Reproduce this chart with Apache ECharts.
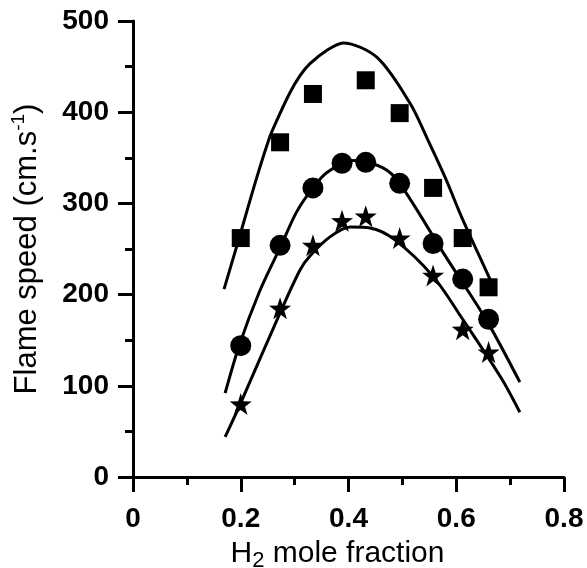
<!DOCTYPE html>
<html>
<head>
<meta charset="utf-8">
<script src="https://cdn.jsdelivr.net/npm/echarts@6/dist/echarts.min.js"></script>
<style>
  html, body { margin: 0; padding: 0; background: #fff; }
  #chart { width: 587px; height: 568px; }
</style>
</head>
<body>
<div id="chart"></div>
<script>
// Measured flame speeds (cm/s) against H2 mole fraction, three mixtures
const fracAll = [0.2, 0.273, 0.334, 0.388, 0.432, 0.495, 0.557, 0.612, 0.66];
const fracSquare = [0.2, 0.273, 0.334, 0.432, 0.495, 0.557, 0.612, 0.66];
const speedSquare = [262, 367, 420, 435, 399, 317, 262, 208];
const speedCircle = [144, 254, 317, 344, 345, 322, 256, 217, 173];
const speedStar = [80, 185, 254, 281, 286, 262, 221, 162, 137];

// Model curves: [mole fraction, flame speed]
const fitTop = [[0.169, 206], [0.197, 262], [0.228, 325], [0.254, 373], [0.267, 391],
  [0.291, 421], [0.31, 440], [0.328, 453], [0.36, 468], [0.39, 476], [0.453, 460],
  [0.514, 410], [0.547, 370], [0.579, 329], [0.61, 285], [0.64, 246], [0.672, 205]];
const fitMid = [[0.171, 92], [0.197, 144], [0.236, 205], [0.275, 254], [0.304, 291],
  [0.334, 317], [0.36, 334], [0.41, 347], [0.464, 339], [0.495, 322], [0.579, 243],
  [0.656, 172], [0.718, 104]];
const fitBot = [[0.171, 44], [0.199, 80], [0.273, 180], [0.31, 227], [0.328, 242],
  [0.365, 263], [0.403, 274], [0.44, 273], [0.486, 260], [0.557, 220], [0.613, 172],
  [0.684, 108], [0.718, 71]];

const xTicks = [0, 0.2, 0.4, 0.6, 0.8];
const yTicks = [0, 100, 200, 300, 400, 500];

const FONT = "'Liberation Sans', Arial, Helvetica, sans-serif";
const STAR = 'path://M50,0 L61.8,35.1 L98.9,35.4 L69.1,57.4 L80.3,92.7 L50,71.2 L19.7,92.7 L30.9,57.4 L1.1,35.4 L38.2,35.1 Z';

const pairs = (xs, ys) => xs.map((x, i) => [x, ys[i]]);

const axisCommon = {
  type: 'value',
  axisLine: { show: true, onZero: false, lineStyle: { color: '#000', width: 3 } },
  axisTick: { show: true, inside: false, length: 15, lineStyle: { color: '#000', width: 3 } },
  minorTick: { show: true, splitNumber: 2, length: 8, lineStyle: { color: '#000', width: 3 } },
  splitLine: { show: false },
  minorSplitLine: { show: false }
};

const chart = echarts.init(document.getElementById('chart'), null, { renderer: 'canvas' });

const fitLine = data => ({
  type: 'line', data, smooth: 0.3, symbol: 'none', z: 2,
  lineStyle: { color: '#000', width: 3 }
});

const markerStyle = { color: '#000', opacity: 1 };

chart.setOption({
  animation: false,
  backgroundColor: '#fff',
  textStyle: { fontFamily: FONT },
  grid: { left: 133, right: 23, top: 21, bottom: 91, containLabel: false, outerBoundsMode: 'none' },
  xAxis: Object.assign({}, axisCommon, {
    min: xTicks[0], max: xTicks[xTicks.length - 1], interval: 0.2,
    axisLabel: {
      color: '#000', fontSize: 28, fontWeight: 'bold', fontFamily: FONT, margin: 28,
      formatter: v => (v === 0 ? '0' : v.toFixed(1))
    },
    name: 'H{sub|2} mole fraction',
    nameLocation: 'middle',
    nameGap: 62,
    nameTextStyle: {
      color: '#000', fontSize: 30, fontFamily: FONT, padding: [0, 22, 0, 0],
      rich: { sub: { fontSize: 22, fontFamily: FONT, color: '#000', verticalAlign: 'bottom', padding: [0, 0, -3, 0] } }
    }
  }),
  yAxis: Object.assign({}, axisCommon, {
    min: yTicks[0], max: yTicks[yTicks.length - 1], interval: 100,
    axisLabel: {
      color: '#000', fontSize: 28, fontWeight: 'bold', fontFamily: FONT, margin: 24
    },
    name: 'Flame speed (cm.s{sup|-1})',
    nameLocation: 'middle',
    nameGap: 88,
    nameTextStyle: {
      color: '#000', fontSize: 31, fontFamily: FONT, lineHeight: 36,
      rich: { sup: { fontSize: 19, fontFamily: FONT, color: '#000', verticalAlign: 'top', lineHeight: 36 } }
    }
  }),
  series: [
    fitLine(fitTop),
    fitLine(fitMid),
    fitLine(fitBot),
    {
      type: 'scatter', data: pairs(fracSquare, speedSquare), symbol: 'rect', symbolSize: 18, z: 3,
      itemStyle: markerStyle
    },
    {
      type: 'scatter', data: pairs(fracAll, speedCircle), symbol: 'circle', symbolSize: 21, z: 3,
      itemStyle: markerStyle
    },
    {
      type: 'scatter', data: pairs(fracAll, speedStar), symbol: STAR, symbolSize: 22, z: 3,
      itemStyle: markerStyle
    }
  ]
});
</script>
</body>
</html>
